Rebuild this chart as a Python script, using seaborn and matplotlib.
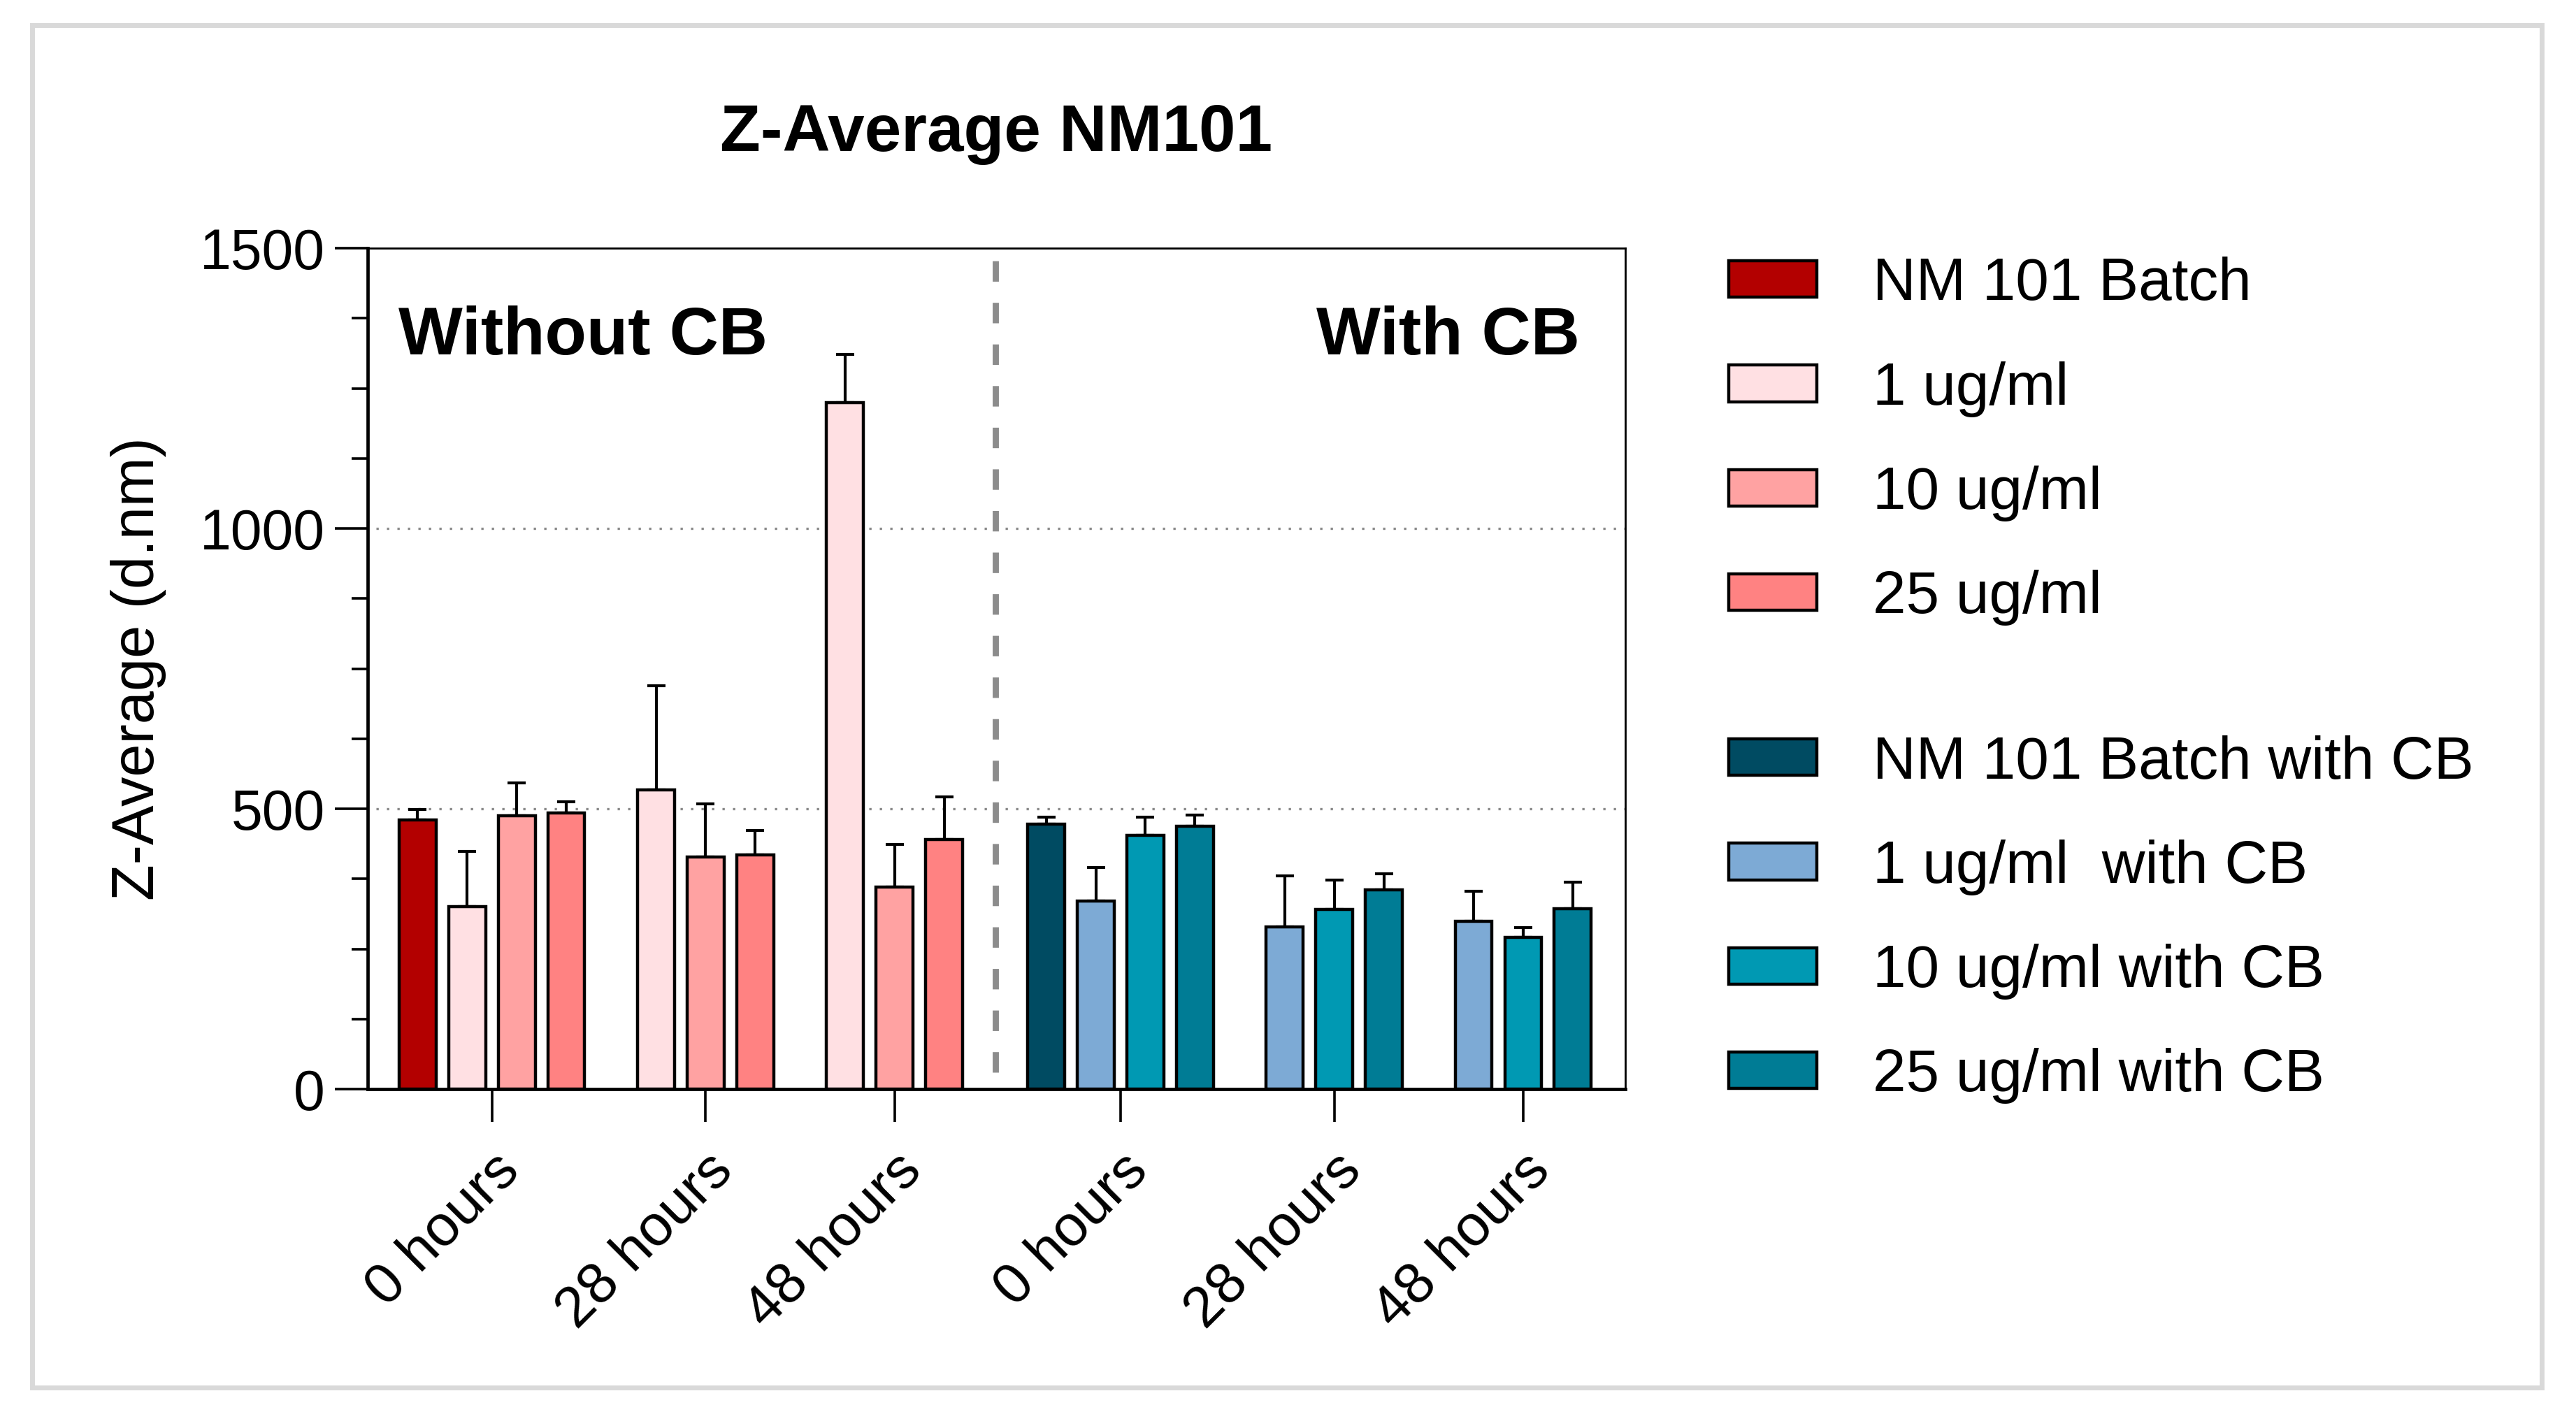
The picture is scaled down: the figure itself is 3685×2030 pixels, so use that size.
import numpy as np
import pandas as pd
import matplotlib
matplotlib.use("Agg")
import matplotlib.pyplot as plt
from matplotlib.patches import Patch, Rectangle
from matplotlib.ticker import MultipleLocator
import seaborn as sns

# ---- data ----
time_labels = ["0 hours", "28 hours", "48 hours"]

series_without = ["NM 101 Batch", "1 ug/ml", "10 ug/ml", "25 ug/ml"]
series_with = ["NM 101 Batch with CB", "1 ug/ml  with CB", "10 ug/ml with CB", "25 ug/ml with CB"]

# means per time point (nan = not measured)
batch_mean = [480, np.nan, np.nan]
ug1_mean = [325, 534, 1224]
ug10_mean = [488, 414, 361]
ug25_mean = [492, 418, 445]
batch_cb_mean = [472, np.nan, np.nan]
ug1_cb_mean = [335, 289, 299]
ug10_cb_mean = [453, 321, 270]
ug25_cb_mean = [469, 356, 322]

# upper error (SD)
batch_sd = [19, np.nan, np.nan]
ug1_sd = [99, 186, 86]
ug10_sd = [58, 95, 76]
ug25_sd = [20, 43, 76]
batch_cb_sd = [13, np.nan, np.nan]
ug1_cb_sd = [60, 91, 54]
ug10_cb_sd = [32, 52, 18]
ug25_cb_sd = [20, 28, 47]

colors = {
    "NM 101 Batch": "#B30000",
    "1 ug/ml": "#FFE0E3",
    "10 ug/ml": "#FFA2A2",
    "25 ug/ml": "#FF8282",
    "NM 101 Batch with CB": "#004B62",
    "1 ug/ml  with CB": "#7DAAD5",
    "10 ug/ml with CB": "#0099B3",
    "25 ug/ml with CB": "#007C95",
}

means = {
    "NM 101 Batch": batch_mean, "1 ug/ml": ug1_mean,
    "10 ug/ml": ug10_mean, "25 ug/ml": ug25_mean,
    "NM 101 Batch with CB": batch_cb_mean, "1 ug/ml  with CB": ug1_cb_mean,
    "10 ug/ml with CB": ug10_cb_mean, "25 ug/ml with CB": ug25_cb_mean,
}
sds = {
    "NM 101 Batch": batch_sd, "1 ug/ml": ug1_sd,
    "10 ug/ml": ug10_sd, "25 ug/ml": ug25_sd,
    "NM 101 Batch with CB": batch_cb_sd, "1 ug/ml  with CB": ug1_cb_sd,
    "10 ug/ml with CB": ug10_cb_sd, "25 ug/ml with CB": ug25_cb_sd,
}

# ---- layout: groups of bars with gaps (Prism-like) ----
BAR_W = 0.74
GAP = 1.07
MID_GAP = 1.32

rows = []
group_centers = []
group_labels = []
prev_right = None
divider_x = None
for block_i, block in enumerate([series_without, series_with]):
    for t_i, t in enumerate(time_labels):
        present = [s for s in block if not np.isnan(means[s][t_i])]
        n = len(present)
        half = (n - 1) / 2 + BAR_W / 2
        if prev_right is None:
            center = 0.0
        else:
            gap = MID_GAP if (t_i == 0 and block_i == 1) else GAP
            if t_i == 0 and block_i == 1:
                divider_x = prev_right + gap / 2
            center = prev_right + gap + half
        prev_right = center + half
        group_centers.append(center)
        group_labels.append(t)
        for k, s in enumerate(present):
            rows.append({
                "series": s,
                "pos": center + (k - (n - 1) / 2),
                "value": means[s][t_i],
                "sd": sds[s][t_i],
            })

df = pd.DataFrame(rows)

# ---- plotting ----
sns.set_theme(style="ticks")
plt.rcParams["font.family"] = ["Liberation Sans", "DejaVu Sans"]
plt.rcParams["text.color"] = "black"
plt.rcParams["axes.labelcolor"] = "black"
plt.rcParams["xtick.color"] = "black"
plt.rcParams["ytick.color"] = "black"

fig = plt.figure(figsize=(18.425, 10.15), dpi=200)
ax = fig.add_axes([0.1427, 0.2325, 0.4882, 0.5926])

hue_order = series_without + series_with
sns.barplot(
    data=df, x="pos", y="value", hue="series", hue_order=hue_order,
    palette=colors, saturation=1, native_scale=True, dodge=False, width=BAR_W,
    errorbar=None, edgecolor="black", linewidth=1.6, legend=False, ax=ax,
    zorder=3,
)

ax.errorbar(
    df["pos"], df["value"], yerr=[np.zeros(len(df)), df["sd"]],
    fmt="none", ecolor="black", elinewidth=1.5, capsize=4.7, capthick=1.5,
    zorder=2,
)

# gridlines and divider
for yv in (500, 1000):
    ax.axhline(yv, xmin=0.007, color="#8a8a8a", lw=1.2, ls=(0, (1, 3.5)), zorder=1)
ax.axvline(divider_x, ymin=0.02, ymax=0.998, color="#8c8c8c", lw=3.2,
           ls=(0, (3.3, 3.4)), zorder=1)

x_left = group_centers[0] - 2.51
x_right = group_centers[-1] + 2.06
ax.set_xlim(x_left, x_right)
ax.set_ylim(0, 1500)

ax.yaxis.set_major_locator(MultipleLocator(500))
ax.yaxis.set_minor_locator(MultipleLocator(125))
ax.set_xticks(group_centers)
ax.set_xticklabels(group_labels, rotation=45, ha="right", rotation_mode="anchor")
ax.tick_params(axis="y", which="major", length=17, width=1.3, labelsize=29, pad=5, direction="out")
ax.tick_params(axis="y", which="minor", length=8.3, width=1.3, direction="out")
ax.tick_params(axis="x", which="major", length=17, width=1.3, labelsize=29.5, pad=11, direction="out")

for side in ("left", "bottom"):
    ax.spines[side].set_linewidth(1.7)
    ax.spines[side].set_color("black")
for side in ("top", "right"):
    ax.spines[side].set_linewidth(1.0)
    ax.spines[side].set_color("black")

ax.set_xlabel("")
ax.set_ylabel("Z-Average (d.nm)", fontsize=30.5, color="black")
ax.yaxis.set_label_coords(-0.16, 0.5)
ax.set_title("Z-Average NM101", fontsize=34, fontweight="bold", pad=50, color="black")

ax.text(0.0247, 0.8736, "Without CB", transform=ax.transAxes, fontsize=35,
        fontweight="bold", ha="left", va="baseline", color="black")
ax.text(0.9639, 0.8736, "With CB", transform=ax.transAxes, fontsize=35,
        fontweight="bold", ha="right", va="baseline", color="black")

# legends (two blocks)
def handles_for(names):
    return [Patch(facecolor=colors[s], edgecolor="black", linewidth=1.6) for s in names]

leg_kw = dict(frameon=False, fontsize=30.8, handlelength=1.48, handleheight=0.565,
              handletextpad=0.93, labelspacing=0.81, borderpad=0, borderaxespad=0,
              loc="upper left", labelcolor="black")
leg1 = fig.legend(handles_for(series_without), series_without,
                  bbox_to_anchor=(0.671, 0.819), **leg_kw)
leg2 = fig.legend(handles_for(series_with), series_with,
                  bbox_to_anchor=(0.671, 0.482), **leg_kw)

# light grey frame around the figure
fig.patches.append(Rectangle((0.01235, 0.02217), 0.9743, 0.9599, transform=fig.transFigure,
                             fill=False, edgecolor="#d9d9d9", linewidth=2.5))

fig.savefig("out.png", dpi=200)
plt.close(fig)
